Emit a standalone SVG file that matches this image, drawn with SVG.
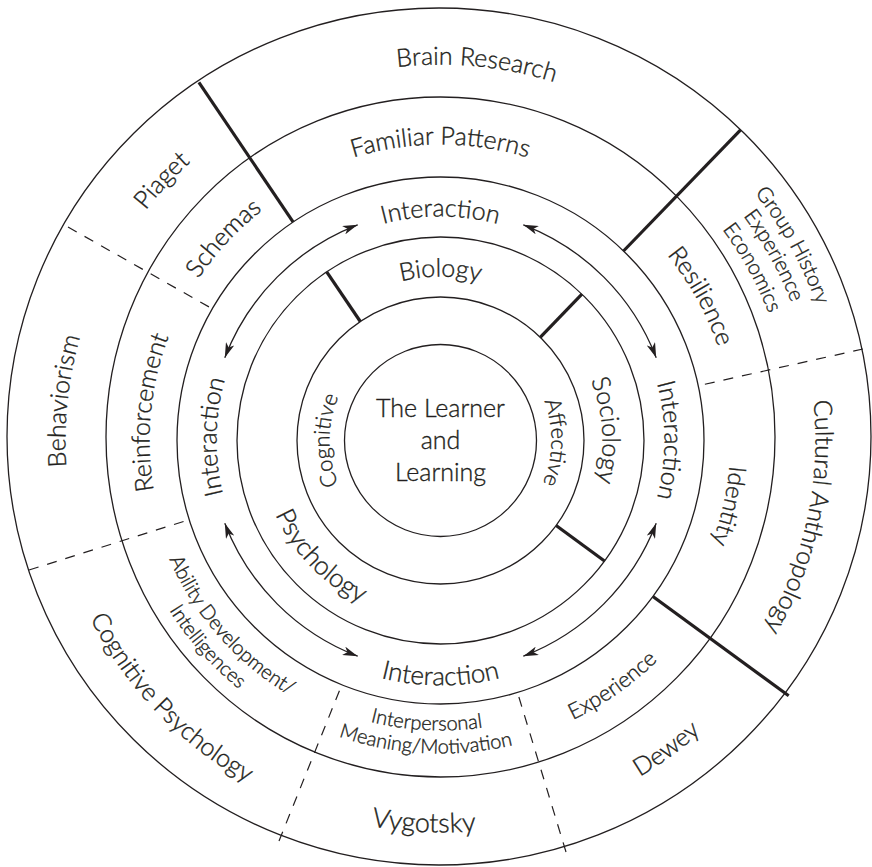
<svg xmlns="http://www.w3.org/2000/svg" width="872" height="867" viewBox="0 0 872 867">
<style>
  .ring { fill: none; stroke: #231f20; stroke-width: 1.3; }
  .wall { stroke: #231f20; stroke-width: 3.2; }
  .dash { stroke: #231f20; stroke-width: 1.2; stroke-dasharray: 10 9; }
  .arr { fill: none; stroke: #231f20; stroke-width: 1.3; marker-start: url(#ah); marker-end: url(#ah); }
  text { font-family: Lato, "Open Sans", "DejaVu Sans", sans-serif; font-weight: 300; fill: #231f20; stroke: #231f20; stroke-width: 0.35px; font-size: 25px; }
  textPath { text-anchor: middle; }
  .f27 { font-size: 27px; }
  .f26 { font-size: 26px; }
  .f24 { font-size: 24px; }
  .f22 { font-size: 22px; }
  .f21 { font-size: 21px; }
  .f20 { font-size: 20px; }
</style>
<defs>
  <marker id="ah" viewBox="0 0 15 9" refX="15" refY="4.5" markerWidth="15" markerHeight="9" markerUnits="userSpaceOnUse" orient="auto-start-reverse">
    <path d="M0,0 L15,4.5 L0,9 L4,4.5 Z" fill="#231f20"/>
  </marker>
  <!-- clockwise arcs (midpoint at top), letters face outward -->
  <path id="c400" d="M-400,0A400,400 0 0 1 400,0"/>
  <path id="c377" d="M-377,0A377,377 0 0 1 377,0"/>
  <path id="c376" d="M-376,0A376,376 0 0 1 376,0"/>
  <path id="c375" d="M-375,0A375,375 0 0 1 375,0"/>
  <path id="c374" d="M-374,0A374,374 0 0 1 374,0"/>
  <path id="c352" d="M-352,0A352,352 0 0 1 352,0"/>
  <path id="c296" d="M-296,0A296,296 0 0 1 296,0"/>
  <path id="c293" d="M-293,0A293,293 0 0 1 293,0"/>
  <path id="c291" d="M-291,0A291,291 0 0 1 291,0"/>
  <path id="c290" d="M-290,0A290,290 0 0 1 290,0"/>
  <path id="c224" d="M-224,0A224,224 0 0 1 224,0"/>
  <path id="c164" d="M-164,0A164,164 0 0 1 164,0"/>
  <path id="c162" d="M-162,0A162,162 0 0 1 162,0"/>
  <path id="c111" d="M-111,0A111,111 0 0 1 111,0"/>
  <!-- anticlockwise arcs (midpoint at bottom), letters face inward -->
  <path id="a393" d="M-393,0A393,393 0 0 0 393,0"/>
  <path id="a392" d="M-392,0A392,392 0 0 0 392,0"/>
  <path id="a391" d="M-391,0A391,391 0 0 0 391,0"/>
  <path id="a320" d="M-320,0A320,320 0 0 0 320,0"/>
  <path id="a313" d="M-313,0A313,313 0 0 0 313,0"/>
  <path id="a309" d="M-309,0A309,309 0 0 0 309,0"/>
  <path id="a296" d="M-296,0A296,296 0 0 0 296,0"/>
  <path id="a290" d="M-290,0A290,290 0 0 0 290,0"/>
  <path id="a245" d="M-245,0A245,245 0 0 0 245,0"/>
  <path id="a181" d="M-181,0A181,181 0 0 0 181,0"/>
</defs>

<rect width="872" height="867" fill="#fff"/>

<!-- concentric rings -->
<g id="rings">
  <ellipse class="ring" cx="439" cy="436.5" rx="432" ry="428.5"/>
  <ellipse class="ring" cx="440.5" cy="437" rx="334.5" ry="340"/>
  <circle class="ring" cx="440.5" cy="440.5" r="263.5"/>
  <circle class="ring" cx="440.5" cy="440.5" r="203.5"/>
  <circle class="ring" cx="440.5" cy="440.5" r="143.5"/>
  <circle class="ring" cx="440.5" cy="440.5" r="96"/>
</g>

<!-- sector boundaries -->
<g id="dividers">
  <line class="wall" x1="293.2" y1="222.1" x2="198.9" y2="82.4"/>
  <line class="wall" x1="623.5" y1="251.0" x2="740.6" y2="129.8"/>
  <line class="wall" x1="652.9" y1="596.5" x2="788.7" y2="695.7"/>
  <line class="wall" x1="360.3" y1="321.5" x2="326.7" y2="271.8"/>
  <line class="wall" x1="540.2" y1="337.3" x2="581.9" y2="294.1"/>
  <line class="wall" x1="556.1" y1="525.5" x2="604.5" y2="561.0"/>
  <line class="dash" x1="863" y1="349" x2="698.2" y2="385.7"/>
  <line class="dash" x1="566" y1="852" x2="517.5" y2="692.5"/>
  <line class="dash" x1="279" y1="841" x2="341.8" y2="684.8"/>
  <line class="dash" x1="29" y1="570" x2="189.2" y2="519.7"/>
  <line class="dash" x1="68" y1="227" x2="212.3" y2="308.75"/>
</g>

<!-- two-way interaction arrows -->
<g id="connectors" transform="translate(440.5,440.5)">
  <path class="arr" d="M-215.7,-82.8A231,231 0 0 1 -82.8,-215.7"/>
  <path class="arr" d="M82.8,-215.7A231,231 0 0 1 215.7,-82.8"/>
  <path class="arr" d="M215.7,82.8A231,231 0 0 1 82.8,215.7"/>
  <path class="arr" d="M-82.8,215.7A231,231 0 0 1 -215.7,82.8"/>
</g>

<g id="labels" transform="translate(440.5,440.5)">
  <g id="core">
    <text x="0" y="-24" text-anchor="middle">The Learner</text>
    <text x="0" y="8" text-anchor="middle">and</text>
    <text x="0" y="40" text-anchor="middle">Learning</text>
  </g>
  <g id="domains">
    <text class="f22" transform="rotate(-90)"><textPath href="#c111" startOffset="50%">Cognitive</textPath></text>
    <text class="f22" transform="rotate(91)"><textPath href="#c111" startOffset="50%">Affective</textPath></text>
  </g>
  <g id="disciplines">
    <text><textPath href="#c164" startOffset="50%">Biology</textPath></text>
    <text transform="rotate(86.5)"><textPath href="#c162" startOffset="50%">Sociology</textPath></text>
    <text class="f26" transform="rotate(46)"><textPath href="#a181" startOffset="50%">Psychology</textPath></text>
  </g>
  <g id="interaction">
    <text><textPath href="#c224" startOffset="50%">Interaction</textPath></text>
    <text transform="rotate(90)"><textPath href="#c224" startOffset="50%">Interaction</textPath></text>
    <text class="f26"><textPath href="#a245" startOffset="50%">Interaction</textPath></text>
    <text transform="rotate(-89)"><textPath href="#c224" startOffset="50%">Interaction</textPath></text>
  </g>
  <g id="themes">
    <text transform="rotate(61)"><textPath href="#c293" startOffset="50%">Resilience</textPath></text>
    <text><textPath href="#c296" startOffset="50%">Familiar Patterns</textPath></text>
    <text class="f24" transform="rotate(102.8)"><textPath href="#c290" startOffset="50%">Identity</textPath></text>
    <text class="f22" transform="rotate(-35)"><textPath href="#a309" startOffset="50%">Experience</textPath></text>
    <text class="f20" transform="rotate(2.8)"><textPath href="#a290" startOffset="50%">Interpersonal</textPath></text>
    <text class="f20" transform="rotate(2.8)"><textPath href="#a313" startOffset="50%">Meaning/Motivation</textPath></text>
    <text class="f20" transform="rotate(48.5)"><textPath href="#a296" startOffset="50%">Ability Development/</textPath></text>
    <text class="f20" transform="rotate(48.5)"><textPath href="#a320" startOffset="50%">Intelligences</textPath></text>
    <text transform="rotate(-84.5)"><textPath href="#c291" startOffset="50%">Reinforcement</textPath></text>
    <text transform="rotate(-47)"><textPath href="#c291" startOffset="50%">Schemas</textPath></text>
  </g>
  <g id="fields">
    <text transform="rotate(5.5)"><textPath href="#c376" startOffset="50%">Brain Research</textPath></text>
    <text class="f21" transform="rotate(61)"><textPath href="#c400" startOffset="50%">Group History</textPath></text>
    <text class="f21" transform="rotate(61)"><textPath href="#c377" startOffset="50%">Experience</textPath></text>
    <text class="f21" transform="rotate(61)"><textPath href="#c352" startOffset="50%">Economics</textPath></text>
    <text transform="rotate(102)"><textPath href="#c375" startOffset="50%">Cultural Anthropology</textPath></text>
    <text transform="rotate(-36.2)"><textPath href="#a391" startOffset="50%">Dewey</textPath></text>
    <text class="f27" transform="rotate(2.5)"><textPath href="#a392" startOffset="50%">Vygotsky</textPath></text>
    <text transform="rotate(46.3)"><textPath href="#a393" startOffset="50%">Cognitive Psychology</textPath></text>
    <text transform="rotate(-84)"><textPath href="#c375" startOffset="50%">Behaviorism</textPath></text>
    <text transform="rotate(-47)"><textPath href="#c374" startOffset="50%">Piaget</textPath></text>
  </g>
</g>
</svg>
